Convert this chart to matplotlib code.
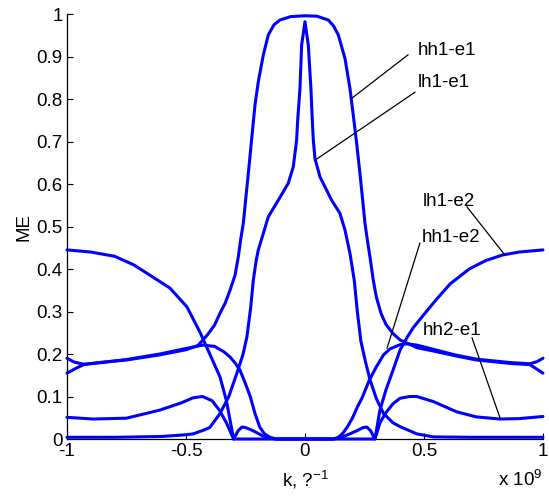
import matplotlib
matplotlib.use("Agg")
import matplotlib.pyplot as plt

plt.rcParams['font.family'] = ['Liberation Sans', 'DejaVu Sans']
plt.rcParams['mathtext.fontset'] = 'custom'
plt.rcParams['mathtext.rm'] = 'Liberation Sans'

# wave vector k (units of 1e9) and matrix element curves
k_hh1e1 = [-1.0, -0.96, -0.93, -0.85, -0.75, -0.61, -0.5, -0.45, -0.41, -0.38, -0.357, -0.335,
           -0.315, -0.294, -0.28, -0.27, -0.259, -0.248, -0.238, -0.224, -0.21, -0.196, -0.175,
           -0.154, -0.13, -0.105, -0.06, 0.0, 0.05, 0.098, 0.12, 0.14, 0.168, 0.189, 0.203,
           0.217, 0.231, 0.242, 0.252, 0.263, 0.273, 0.287, 0.30, 0.32, 0.34, 0.37, 0.40, 0.47,
           0.54, 0.63, 0.72, 0.86, 0.945, 0.97, 1.0]
me_hh1e1 = [0.155, 0.167, 0.175, 0.181, 0.186, 0.198, 0.21, 0.22, 0.245, 0.268, 0.296, 0.32,
            0.35, 0.385, 0.429, 0.47, 0.508, 0.57, 0.625, 0.706, 0.786, 0.841, 0.904,
            0.951, 0.975, 0.986, 0.994, 0.996, 0.995, 0.986, 0.972, 0.951, 0.896, 0.825, 0.762,
            0.697, 0.625, 0.565, 0.508, 0.465, 0.429, 0.374, 0.334, 0.295, 0.27, 0.248, 0.233,
            0.215, 0.207, 0.196, 0.186, 0.178, 0.175, 0.166, 0.155]

k_lh1e1 = [-1.0, -0.8, -0.6, -0.5, -0.47, -0.43, -0.4, -0.357, -0.32, -0.286, -0.26, -0.244,
           -0.228, -0.217, -0.205, -0.196, -0.175, -0.154, -0.112, -0.07, -0.049, -0.035,
           -0.031, -0.021, -0.014, 0.0, 0.014, 0.025, 0.031, 0.035, 0.042, 0.063, 0.112,
           0.147, 0.168, 0.189, 0.207, 0.22, 0.235, 0.255, 0.273, 0.30, 0.33, 0.37, 0.40,
           0.47, 0.54, 0.7, 1.0]
me_lh1e1 = [0.004, 0.004, 0.006, 0.01, 0.012, 0.02, 0.027, 0.06, 0.1, 0.155, 0.2, 0.24,
            0.31, 0.374, 0.42, 0.445, 0.484, 0.523, 0.562, 0.602, 0.641, 0.704,
            0.747, 0.825, 0.927, 0.982, 0.927, 0.825, 0.747, 0.704, 0.66, 0.617, 0.562,
            0.531, 0.492, 0.437, 0.374, 0.3, 0.23, 0.18, 0.14, 0.095, 0.06, 0.038, 0.029,
            0.012, 0.005, 0.004, 0.004]

k_lh1e2 = [-1.0, -0.9, -0.8, -0.72, -0.65, -0.567, -0.496, -0.44, -0.4, -0.357, -0.33, -0.3,
           -0.28, -0.265, -0.25, -0.22, -0.18, -0.15, -0.12, 0.0, 0.12, 0.15, 0.18, 0.22,
           0.245, 0.26, 0.275, 0.294, 0.315, 0.34, 0.37, 0.40, 0.43, 0.455, 0.51, 0.55, 0.61,
           0.69, 0.76, 0.83, 0.9, 1.0]
me_lh1e2 = [0.445, 0.44, 0.43, 0.41, 0.385, 0.355, 0.311, 0.25, 0.2, 0.146, 0.09, 0.0,
            0.02, 0.028, 0.027, 0.02, 0.008, 0.002, 0.0, 0.0, 0.0, 0.003, 0.01, 0.02,
            0.027, 0.028, 0.02, 0.0, 0.068, 0.115, 0.162, 0.21, 0.24, 0.262, 0.30, 0.327, 0.365,
            0.40, 0.42, 0.433, 0.44, 0.445]

k_hh1e2 = [-1.0, -0.97, -0.93, -0.85, -0.75, -0.61, -0.5, -0.43, -0.38, -0.34, -0.315, -0.295,
           -0.273, -0.25, -0.23, -0.21, -0.19, -0.17, -0.147, -0.12, 0.0, 0.12, 0.14, 0.16,
           0.18, 0.2, 0.22, 0.24, 0.27, 0.30, 0.33, 0.357, 0.40, 0.43, 0.47, 0.54, 0.63, 0.72,
           0.86, 0.945, 0.975, 1.0]
me_hh1e2 = [0.19, 0.181, 0.176, 0.18, 0.187, 0.2, 0.213, 0.221, 0.218, 0.205, 0.193, 0.18,
            0.162, 0.13, 0.1, 0.06, 0.028, 0.012, 0.004, 0.0, 0.0, 0.0, 0.004, 0.014,
            0.03, 0.05, 0.075, 0.097, 0.138, 0.17, 0.198, 0.212, 0.222, 0.224, 0.221, 0.211,
            0.198, 0.188, 0.18, 0.177, 0.182, 0.19]

k_hh2e1 = [-1.0, -0.89, -0.75, -0.61, -0.52, -0.47, -0.43, -0.39, -0.36, -0.33, -0.3, 0.0,
           0.294, 0.315, 0.34, 0.37, 0.40, 0.44, 0.47, 0.54, 0.637, 0.72, 0.82, 0.9, 0.96, 1.0]
me_hh2e1 = [0.051, 0.047, 0.049, 0.068, 0.085, 0.097, 0.1, 0.09, 0.068, 0.038, 0.0, 0.0,
            0.0, 0.038, 0.062, 0.083, 0.096, 0.1, 0.1, 0.088, 0.064, 0.052, 0.047, 0.048,
            0.051, 0.053]

# label text, text anchor (k, ME) and the point on the curve it refers to
labels = ['hh1-e1', 'lh1-e1', 'lh1-e2', 'hh1-e2', 'hh2-e1']
label_xy = [(0.475, 0.915), (0.475, 0.838), (0.496, 0.558), (0.492, 0.475), (0.496, 0.256)]
line_from = [(0.433, 0.904), (0.462, 0.816), (0.681, 0.546), (0.483, 0.461), (0.702, 0.238)]
line_to = [(0.197, 0.802), (0.042, 0.656), (0.84, 0.433), (0.345, 0.214), (0.82, 0.049)]

fig = plt.figure(figsize=(5.49, 4.97), dpi=100)
ax = fig.add_axes([0.122, 0.1167, 0.867, 0.855])

blue = '#0000ff'
for kk, me in [(k_hh1e1, me_hh1e1), (k_lh1e1, me_lh1e1), (k_lh1e2, me_lh1e2),
               (k_hh1e2, me_hh1e2), (k_hh2e1, me_hh2e1)]:
    ax.plot(kk, me, color=blue, lw=2.2, clip_on=False, zorder=3,
            solid_joinstyle='round', solid_capstyle='round')

for name, txt, p0, p1 in zip(labels, label_xy, line_from, line_to):
    ax.plot([p0[0], p1[0]], [p0[1], p1[1]], color='black', lw=0.9, zorder=4)
    ax.text(txt[0], txt[1], name, fontsize=13.5, ha='left', va='center')

ax.set_xlim(-1, 1)
ax.set_ylim(0, 1)
ax.set_xticks([-1, -0.5, 0, 0.5, 1])
ax.set_xticklabels(['-1', '-0.5', '0', '0.5', '1'])
ax.set_yticks([0, 0.1, 0.2, 0.3, 0.4, 0.5, 0.6, 0.7, 0.8, 0.9, 1])
ax.set_yticklabels(['0', '0.1', '0.2', '0.3', '0.4', '0.5', '0.6', '0.7', '0.8', '0.9', '1'])
ax.tick_params(direction='in', length=4, width=0.8, labelsize=13.5, pad=3)
for side in ['top', 'right']:
    ax.spines[side].set_visible(False)
ax.spines['left'].set_linewidth(0.9)
ax.spines['bottom'].set_linewidth(0.9)

ax.set_ylabel('ME', fontsize=13.5, labelpad=3)
ax.set_xlabel('k, ?$^{-1}$', fontsize=13.5, labelpad=6)
fig.text(0.988, 0.015, 'x 10$^{9}$', fontsize=13.5, ha='right', va='bottom')

fig.savefig('out.png', dpi=100)
